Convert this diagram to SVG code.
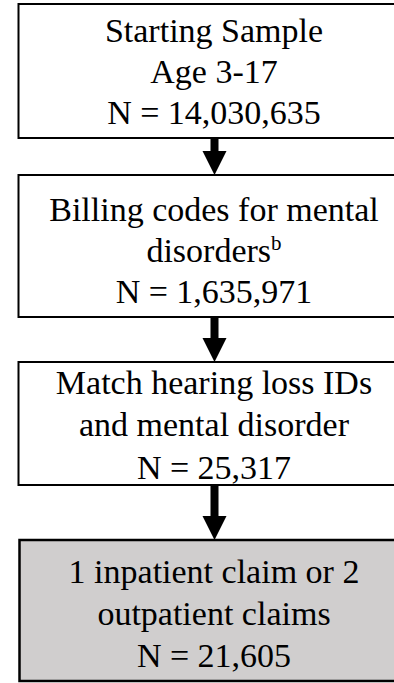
<svg xmlns="http://www.w3.org/2000/svg" width="394" height="683" viewBox="0 0 394 683">
  <style>
    .box { fill: #ffffff; stroke: #000000; stroke-width: 2; }
    .box.final { fill: #d0cece; stroke-width: 2.5; }
    text { font-family: 'Liberation Serif', Tinos, 'Nimbus Roman', 'DejaVu Serif', serif; font-size: 34px; fill: #000000; text-anchor: middle; }
    .sup { font-size: 21px; }
    .arrow { fill: #000000; }
  </style>
  <defs>
    <!-- thick down arrow head: 24px wide and 24px tall; tip at (0,0) -->
    <path id="down-head" d="M -12 -24 L 12 -24 L 0 0 Z"/>
  </defs>

  <rect width="394" height="683" fill="#ffffff"/>

  <g id="connectors">
    <g id="arrow-1" class="arrow">
      <rect x="210.5" y="138" width="8" height="14"/>
      <use href="#down-head" x="214.5" y="175"/>
    </g>
    <g id="arrow-2" class="arrow">
      <rect x="210.5" y="317" width="8" height="25"/>
      <use href="#down-head" x="214.5" y="362"/>
    </g>
    <g id="arrow-3" class="arrow">
      <rect x="210.5" y="485" width="8" height="32"/>
      <use href="#down-head" x="214.5" y="540"/>
    </g>
  </g>

  <g id="node-start">
    <rect class="box" x="18.5" y="4" width="391" height="134"/>
    <text x="214" y="42">Starting Sample</text>
    <text x="214" y="83">Age 3-17</text>
    <text x="214" y="124">N = 14,030,635</text>
  </g>

  <g id="node-billing">
    <rect class="box" x="18.5" y="175" width="391" height="142"/>
    <text x="214" y="221">Billing codes for mental</text>
    <text x="214" y="262">disorders<tspan class="sup" dy="-12">b</tspan></text>
    <text x="214" y="303">N = 1,635,971</text>
  </g>

  <g id="node-match">
    <rect class="box" x="18.5" y="362" width="391" height="123"/>
    <text x="214" y="394">Match hearing loss IDs</text>
    <text x="214" y="436">and mental disorder</text>
    <text x="214" y="479">N = 25,317</text>
  </g>

  <g id="node-claims">
    <rect class="box final" x="19.5" y="540" width="391" height="141"/>
    <text x="214" y="583">1 inpatient claim or 2</text>
    <text x="214" y="625">outpatient claims</text>
    <text x="214" y="667">N = 21,605</text>
  </g>
</svg>
